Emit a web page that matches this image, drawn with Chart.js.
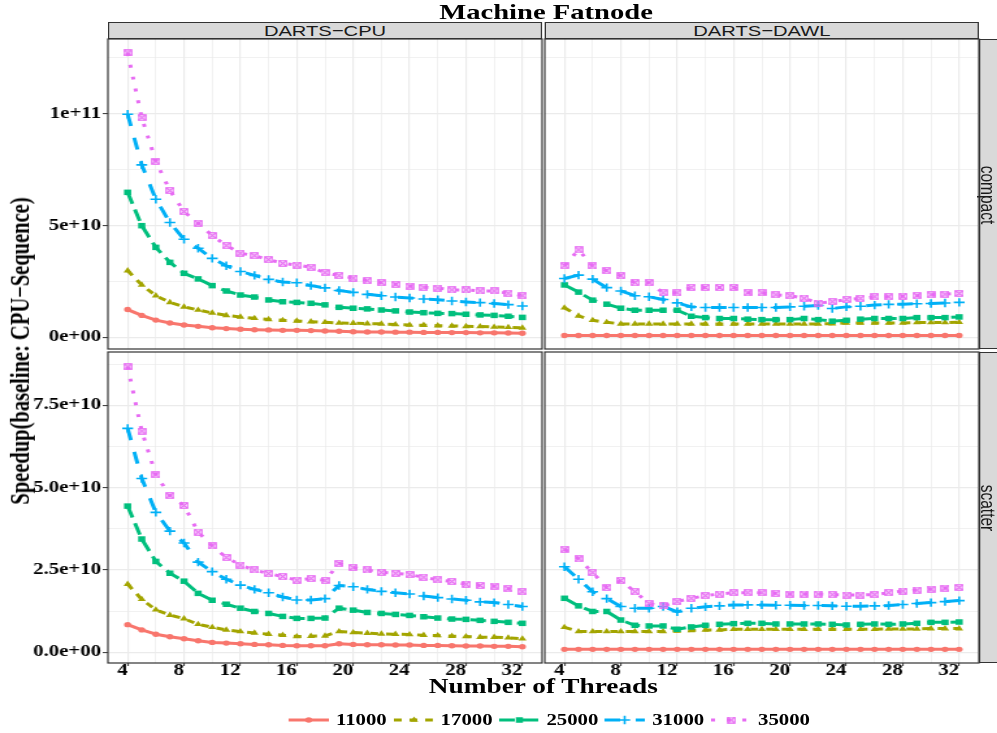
<!DOCTYPE html>
<html lang="en">
<head>
<meta charset="utf-8">
<title>Machine Fatnode</title>
<script src="https://cdn.jsdelivr.net/npm/chart.js@4.4.1/dist/chart.umd.min.js"></script>
<style>
  html, body { margin: 0; padding: 0; background: #fff; overflow: hidden; }
  /* the reference picture is stretched sideways, so the figure is laid out
     767px wide and scaled 1.3x horizontally */
  #fig { position: absolute; left: 0; top: 0; width: 767px; height: 733px; overflow: hidden;
         transform: scaleX(1.3); transform-origin: 0 0;
         font-family: 'Liberation Serif', 'Times New Roman', serif; color: #000; }
  #fig canvas { position: absolute; }
  .title { position: absolute; white-space: nowrap; font-weight: bold; }
  .strip { position: absolute; box-sizing: border-box; background: #d9d9d9; border: 1px solid #333;
           color: #1a1a1a; font-family: 'Liberation Sans', Arial, sans-serif; font-size: 15.5px; }
  .strip.top { height: 17px; line-height: 15px; text-align: center; }
  .strip.side span { position: absolute; white-space: nowrap; transform: translate(-50%, -50%) rotate(90deg); }
  #legend { position: absolute; top: 711px; left: 222px; height: 18px; display: flex; align-items: center;
            font-weight: bold; font-size: 16px; white-space: nowrap; }
  #fig #legend canvas { position: static; margin-right: 5.4px; }
  #legend span { margin-right: 5px; line-height: 18px; }
</style>
</head>
<body>
<div id="fig">
  <div class="title" style="left:420px; top:1px; font-size:22px; line-height:22px; transform:translateX(-50%)">Machine Fatnode</div>

  <div class="strip top" style="left:83px; top:22px; width:334px">DARTS−CPU</div>
  <div class="strip top" style="left:419px; top:22px; width:334px">DARTS−DAWL</div>
  <div class="strip side" style="left:753px; top:39px; width:30px; height:310px"><span style="left:6.4px; top:155px">compact</span></div>
  <div class="strip side" style="left:753px; top:352px; width:30px; height:311px"><span style="left:6.4px; top:155px">scatter</span></div>

  <canvas id="cpuCompact" width="418" height="312" style="left:0; top:38px"></canvas>
  <canvas id="dawlCompact" width="336" height="312" style="left:418px; top:38px"></canvas>
  <canvas id="cpuScatter" width="418" height="336" style="left:0; top:351px"></canvas>
  <canvas id="dawlScatter" width="336" height="336" style="left:418px; top:351px"></canvas>

  <div class="title" style="left:16px; top:351px; font-size:20.5px; line-height:21px; transform:translate(-50%,-50%) rotate(-90deg)">Speedup(baseline: CPU−Sequence)</div>
  <div class="title" style="left:418px; top:676px; font-size:21px; line-height:21px; transform:translateX(-50%)">Number of Threads</div>

  <div id="legend"></div>
</div>

<script>
const threads = [4, 5, 6, 7, 8, 9, 10, 11, 12, 13, 14, 15, 16, 17, 18, 19, 20, 21, 22, 23, 24, 25, 26, 27, 28, 29, 30, 31, 32];
const xTicks = [4, 6, 8, 10, 12, 14, 16, 18, 20, 22, 24, 26, 28, 30, 32];
const xTickLabels = ['4', '', '8', '', '12', '', '16', '', '20', '', '24', '', '28', '', '32'];
const compactYTicks = [0, 2.5e10, 5e10, 7.5e10, 1e11, 1.25e11];
const compactYLabels = ['0e+00', '', '5e+10', '', '1e+11', ''];
const scatterYTicks = [0, 1.25e10, 2.5e10, 3.75e10, 5e10, 6.25e10, 7.5e10, 8.75e10];
const scatterYLabels = ['0.0e+00', '', '2.5e+10', '', '5.0e+10', '', '7.5e+10', ''];
const sizes = ['11000', '17000', '25000', '31000', '35000'];

// speedup values, in units of 1e10
const cpuCompact11000 = [1.24, 0.98, 0.77, 0.64, 0.55, 0.49, 0.43, 0.39, 0.36, 0.34, 0.33, 0.31, 0.31, 0.30, 0.28, 0.27, 0.25, 0.24, 0.24, 0.23, 0.23, 0.22, 0.22, 0.21, 0.21, 0.20, 0.20, 0.19, 0.18];
const cpuCompact17000 = [2.98, 2.34, 1.86, 1.56, 1.36, 1.22, 1.09, 0.98, 0.91, 0.85, 0.80, 0.76, 0.73, 0.70, 0.67, 0.64, 0.63, 0.61, 0.60, 0.57, 0.55, 0.54, 0.52, 0.51, 0.49, 0.48, 0.46, 0.45, 0.42];
const cpuCompact25000 = [6.48, 4.99, 4.02, 3.35, 2.86, 2.61, 2.31, 2.07, 1.89, 1.80, 1.67, 1.59, 1.56, 1.52, 1.45, 1.34, 1.30, 1.27, 1.22, 1.18, 1.13, 1.10, 1.07, 1.06, 1.03, 1.00, 0.98, 0.94, 0.89];
const cpuCompact31000 = [9.97, 7.71, 6.17, 5.13, 4.38, 3.98, 3.53, 3.20, 2.94, 2.77, 2.59, 2.47, 2.44, 2.31, 2.21, 2.09, 2.01, 1.92, 1.86, 1.80, 1.76, 1.71, 1.68, 1.62, 1.58, 1.55, 1.51, 1.46, 1.40];
const cpuCompact35000 = [12.71, 9.82, 7.87, 6.56, 5.62, 5.10, 4.55, 4.10, 3.76, 3.65, 3.47, 3.31, 3.23, 3.13, 2.89, 2.76, 2.65, 2.53, 2.44, 2.37, 2.29, 2.24, 2.20, 2.12, 2.12, 2.07, 2.07, 1.97, 1.86];

const dawlCompact11000 = [0.08, 0.08, 0.08, 0.08, 0.08, 0.08, 0.08, 0.08, 0.08, 0.08, 0.08, 0.08, 0.08, 0.08, 0.08, 0.08, 0.08, 0.08, 0.08, 0.08, 0.08, 0.08, 0.08, 0.08, 0.08, 0.08, 0.08, 0.08, 0.08];
const dawlCompact17000 = [1.32, 0.96, 0.76, 0.67, 0.60, 0.60, 0.60, 0.60, 0.60, 0.60, 0.60, 0.60, 0.60, 0.60, 0.60, 0.60, 0.60, 0.60, 0.60, 0.61, 0.64, 0.64, 0.64, 0.64, 0.64, 0.66, 0.66, 0.66, 0.67];
const dawlCompact25000 = [2.34, 2.02, 1.66, 1.48, 1.30, 1.21, 1.21, 1.21, 1.21, 0.94, 0.88, 0.84, 0.84, 0.81, 0.79, 0.79, 0.79, 0.84, 0.79, 0.72, 0.76, 0.81, 0.84, 0.84, 0.84, 0.88, 0.88, 0.88, 0.91];
const dawlCompact31000 = [2.63, 2.78, 2.60, 2.22, 2.07, 1.86, 1.81, 1.69, 1.54, 1.36, 1.33, 1.33, 1.33, 1.33, 1.33, 1.33, 1.36, 1.39, 1.42, 1.29, 1.36, 1.39, 1.44, 1.47, 1.48, 1.50, 1.51, 1.53, 1.56];
const dawlCompact35000 = [3.20, 3.91, 3.19, 2.98, 2.75, 2.44, 2.44, 1.99, 1.99, 2.23, 2.23, 2.23, 2.23, 1.99, 1.99, 1.90, 1.86, 1.75, 1.53, 1.59, 1.69, 1.74, 1.81, 1.81, 1.84, 1.86, 1.90, 1.93, 1.96];

const cpuScatter11000 = [0.84, 0.68, 0.55, 0.47, 0.41, 0.35, 0.30, 0.28, 0.26, 0.24, 0.23, 0.21, 0.20, 0.20, 0.20, 0.26, 0.24, 0.23, 0.23, 0.22, 0.22, 0.21, 0.21, 0.20, 0.19, 0.19, 0.18, 0.18, 0.17];
const cpuScatter17000 = [2.07, 1.61, 1.29, 1.13, 1.02, 0.85, 0.76, 0.68, 0.63, 0.59, 0.55, 0.52, 0.48, 0.49, 0.50, 0.63, 0.60, 0.58, 0.56, 0.55, 0.54, 0.52, 0.51, 0.49, 0.48, 0.46, 0.46, 0.44, 0.41];
const cpuScatter25000 = [4.44, 3.44, 2.76, 2.40, 2.16, 1.79, 1.58, 1.46, 1.34, 1.24, 1.18, 1.09, 1.03, 1.03, 1.04, 1.34, 1.28, 1.21, 1.18, 1.15, 1.12, 1.08, 1.04, 1.01, 1.00, 0.97, 0.94, 0.91, 0.88];
const cpuScatter31000 = [6.80, 5.28, 4.25, 3.68, 3.32, 2.74, 2.45, 2.22, 2.04, 1.91, 1.81, 1.68, 1.59, 1.59, 1.63, 2.03, 1.99, 1.91, 1.85, 1.81, 1.77, 1.71, 1.66, 1.62, 1.58, 1.53, 1.51, 1.45, 1.39];
const cpuScatter35000 = [8.67, 6.72, 5.39, 4.76, 4.46, 3.65, 3.23, 2.88, 2.65, 2.50, 2.39, 2.30, 2.19, 2.24, 2.18, 2.70, 2.58, 2.50, 2.43, 2.40, 2.36, 2.28, 2.20, 2.15, 2.07, 2.03, 2.01, 1.93, 1.84];

const dawlScatter11000 = [0.09, 0.09, 0.09, 0.09, 0.09, 0.09, 0.09, 0.09, 0.09, 0.09, 0.09, 0.09, 0.09, 0.09, 0.09, 0.09, 0.09, 0.09, 0.09, 0.09, 0.09, 0.09, 0.09, 0.09, 0.09, 0.09, 0.09, 0.09, 0.09];
const dawlScatter17000 = [0.76, 0.63, 0.63, 0.63, 0.63, 0.63, 0.63, 0.63, 0.65, 0.66, 0.68, 0.68, 0.70, 0.70, 0.70, 0.70, 0.70, 0.70, 0.70, 0.70, 0.70, 0.70, 0.70, 0.71, 0.71, 0.71, 0.72, 0.72, 0.72];
const dawlScatter25000 = [1.64, 1.41, 1.24, 1.24, 0.98, 0.82, 0.80, 0.80, 0.70, 0.77, 0.82, 0.85, 0.87, 0.88, 0.88, 0.86, 0.86, 0.86, 0.86, 0.85, 0.83, 0.85, 0.86, 0.85, 0.86, 0.88, 0.91, 0.91, 0.92];
const dawlScatter31000 = [2.60, 2.22, 1.84, 1.63, 1.39, 1.34, 1.34, 1.39, 1.23, 1.34, 1.38, 1.41, 1.44, 1.44, 1.44, 1.43, 1.43, 1.42, 1.42, 1.41, 1.40, 1.40, 1.41, 1.42, 1.45, 1.48, 1.51, 1.54, 1.57];
const dawlScatter35000 = [3.13, 2.84, 2.42, 1.97, 2.18, 1.84, 1.48, 1.41, 1.54, 1.64, 1.72, 1.77, 1.81, 1.81, 1.81, 1.79, 1.77, 1.77, 1.77, 1.75, 1.74, 1.74, 1.75, 1.81, 1.86, 1.89, 1.92, 1.95, 1.97];

// ggplot default hue colours, linetypes and shapes
const lineColors = ['#F8766D', '#A3A500', '#00BF7D', '#00B0F6', '#E76BF3'];
const dashes = [[], [6, 6], [12, 6], [12, 12], [3, 9]];

// shape 7: square with a cross inside
function boxCross(color) {
  const c = document.createElement('canvas');
  c.width = 7; c.height = 7;
  const g = c.getContext('2d');
  g.strokeStyle = color;
  g.lineWidth = 1.1;
  g.strokeRect(0.75, 0.75, 5.5, 5.5);
  g.beginPath();
  g.moveTo(0.75, 0.75); g.lineTo(6.25, 6.25);
  g.moveTo(6.25, 0.75); g.lineTo(0.75, 6.25);
  g.stroke();
  return c;
}
const markers = ['circle', 'triangle', 'rect', 'cross', boxCross('#E76BF3')];
const radii = [2.7, 3.6, 3.9, 4.2, 4];
const markerBorders = [0, 0, 0, 1.6, 1];

Chart.defaults.font.family = "'Liberation Serif', 'Times New Roman', serif";

const panelBorder = {
  id: 'panelBorder',
  afterDraw(chart) {
    const { ctx, chartArea: a } = chart;
    ctx.save();
    ctx.strokeStyle = '#333333';
    ctx.lineWidth = 1.2;
    ctx.strokeRect(a.left, a.top, a.right - a.left, a.bottom - a.top);
    ctx.restore();
  }
};

const tickFont = { family: "'Liberation Serif', 'Times New Roman', serif", weight: 'bold', size: 16, lineHeight: 1 };
const gridWidth = labels => ctx => (labels[ctx.index] ? 1.2 : 0.7);
const tickColor = labels => ctx => (labels[ctx.index] ? '#333333' : 'rgba(0,0,0,0)');

function xScale(showLabels) {
  return {
    type: 'linear', min: 2.6, max: 33.4,
    afterBuildTicks: ax => { ax.ticks = xTicks.map(v => ({ value: v })); },
    afterFit: ax => { ax.height = showLabels ? 24 : 0; ax.paddingLeft = 0; ax.paddingRight = 0; },
    border: { display: false },
    grid: { color: '#ebebeb', lineWidth: gridWidth(xTickLabels), drawTicks: showLabels,
            tickLength: 3, tickColor: tickColor(xTickLabels), tickWidth: 1 },
    ticks: { display: showLabels, autoSkip: false, maxRotation: 0, minRotation: 0, align: 'end',
             padding: -3, color: '#000', font: tickFont, callback: (v, i) => xTickLabels[i] }
  };
}

function yScale(range, ticks, labels, showLabels) {
  return {
    type: 'linear', min: range[0], max: range[1],
    afterBuildTicks: ax => { ax.ticks = ticks.map(v => ({ value: v })); },
    afterFit: ax => { ax.width = showLabels ? 83 : 0; ax.paddingTop = 0; ax.paddingBottom = 0; },
    border: { display: false },
    grid: { color: '#ebebeb', lineWidth: gridWidth(labels), drawTicks: showLabels,
            tickLength: 4, tickColor: tickColor(labels), tickWidth: 1 },
    ticks: { display: showLabels, autoSkip: false, padding: 1.3, color: '#000', font: tickFont,
             callback: (v, i) => labels[i] }
  };
}

function seriesSets(list) {
  return list.map((vals, i) => ({
    label: sizes[i],
    data: threads.map((t, j) => ({ x: t, y: vals[j] * 1e10 })),
    order: list.length - 1 - i,
    borderColor: lineColors[i],
    backgroundColor: lineColors[i],
    borderWidth: 3,
    borderDash: dashes[i],
    borderCapStyle: 'butt',
    borderJoinStyle: 'round',
    tension: 0,
    fill: false,
    pointStyle: markers[i],
    pointRadius: radii[i],
    pointBorderWidth: markerBorders[i],
    pointBackgroundColor: lineColors[i],
    pointBorderColor: lineColors[i]
  }));
}

function makePanel(id, list, range, ticks, labels, showY, showX, padding) {
  return new Chart(document.getElementById(id), {
    type: 'line',
    data: { datasets: seriesSets(list) },
    options: {
      responsive: false,
      animation: false,
      events: [],
      layout: { padding: padding, autoPadding: false },
      plugins: { legend: { display: false }, tooltip: { enabled: false } },
      scales: { x: xScale(showX), y: yScale(range, ticks, labels, showY) }
    },
    plugins: [panelBorder]
  });
}

const compactRange = [-5.23e9, 1.3335e11];
const scatterRange = [-3.25e9, 9.12e10];

makePanel('cpuCompact', [cpuCompact11000, cpuCompact17000, cpuCompact25000, cpuCompact31000, cpuCompact35000],
  compactRange, compactYTicks, compactYLabels, true, false, { left: 0, top: 1, right: 1, bottom: 1 });
makePanel('dawlCompact', [dawlCompact11000, dawlCompact17000, dawlCompact25000, dawlCompact31000, dawlCompact35000],
  compactRange, compactYTicks, compactYLabels, false, false, { left: 1, top: 1, right: 1, bottom: 1 });
makePanel('cpuScatter', [cpuScatter11000, cpuScatter17000, cpuScatter25000, cpuScatter31000, cpuScatter35000],
  scatterRange, scatterYTicks, scatterYLabels, true, true, { left: 0, top: 1, right: 1, bottom: 0 });
makePanel('dawlScatter', [dawlScatter11000, dawlScatter17000, dawlScatter25000, dawlScatter31000, dawlScatter35000],
  scatterRange, scatterYTicks, scatterYLabels, false, true, { left: 1, top: 1, right: 1, bottom: 0 });

// legend: line + marker key, then the label
function drawKey(canvas, i) {
  const g = canvas.getContext('2d');
  const mid = canvas.height / 2;
  g.strokeStyle = lineColors[i];
  g.fillStyle = lineColors[i];
  g.lineWidth = 3;
  g.lineCap = 'butt';
  g.setLineDash(dashes[i]);
  g.beginPath();
  g.moveTo(0, mid);
  g.lineTo(canvas.width, mid);
  g.stroke();
  g.setLineDash([]);
  g.lineWidth = markerBorders[i] || 1;
  if (Chart.helpers && Chart.helpers.drawPoint) {
    Chart.helpers.drawPoint(g, { pointStyle: markers[i], radius: radii[i], borderWidth: markerBorders[i], rotation: 0 },
      canvas.width / 2, mid);
  }
}

const legend = document.getElementById('legend');
sizes.forEach((s, i) => {
  const c = document.createElement('canvas');
  c.width = 31; c.height = 16;
  drawKey(c, i);
  legend.appendChild(c);
  const t = document.createElement('span');
  t.textContent = s;
  legend.appendChild(t);
});
</script>
</body>
</html>
